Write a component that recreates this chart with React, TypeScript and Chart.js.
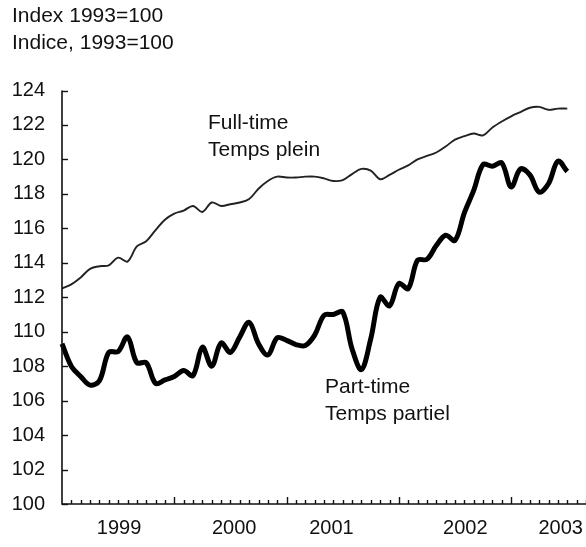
import { useEffect, useRef } from "react";
import { Chart, registerables } from "chart.js";
Chart.register(...registerables);

// Monthly index values, Jan 1999 .. Jul 2003 (month 0 = Jan 1999)
const fullTime = [
  112.5, 112.75, 113.15, 113.65, 113.8, 113.85, 114.3, 114.07, 114.95, 115.25, 115.9, 116.5,
  116.85, 117.03, 117.3, 116.95, 117.5, 117.3, 117.4, 117.5, 117.7, 118.3, 118.75, 119.0,
  118.95, 118.95, 119.0, 119.0, 118.9, 118.75, 118.8, 119.15, 119.45, 119.35, 118.85, 119.1,
  119.4, 119.65, 120.0, 120.2, 120.4, 120.75, 121.15, 121.35, 121.5, 121.4, 121.85, 122.2,
  122.5, 122.75, 123.0, 123.05, 122.88, 122.95, 122.95,
];
const partTime = [
  109.3, 108.0, 107.4, 106.9, 107.15, 108.8, 108.85, 109.7, 108.2, 108.2, 107.0, 107.2,
  107.4, 107.75, 107.45, 109.1, 108.0, 109.35, 108.8, 109.7, 110.55, 109.3, 108.65, 109.65,
  109.5, 109.25, 109.2, 109.8, 110.95, 111.0, 111.15, 109.0, 107.8, 109.6, 112.0, 111.5,
  112.8, 112.5, 114.15, 114.2, 115.0, 115.6, 115.3, 116.9, 118.2, 119.7, 119.6, 119.8,
  118.4, 119.45, 119.1, 118.1, 118.6, 119.9, 119.3,
];
const yearLabels = ["1999", "2000", "2001", "2002", "2003"];
const yearLabelMonths = [6.1, 18.4, 28.8, 43.1, 53.3];
const yTickValues = [100, 102, 104, 106, 108, 110, 112, 114, 116, 118, 120, 122, 124];
const titleLines = ["Index 1993=100", "Indice, 1993=100"];
const fullTimeLabel = ["Full-time", "Temps plein"];
const partTimeLabel = ["Part-time", "Temps partiel"];

const X_MIN = 0;
const X_MAX = 56;
const FONT = "'Liberation Sans', Arial, Helvetica, sans-serif";
const INK = "#111";

const decorPlugin = {
  id: "decor",
  afterDraw(chart: any) {
    const { ctx, chartArea, scales } = chart;
    const xs = scales.x;
    const ys = scales.y;
    ctx.save();
    ctx.strokeStyle = INK;
    ctx.lineWidth = 1.6;
    ctx.beginPath();
    ctx.moveTo(chartArea.left, ys.getPixelForValue(124));
    ctx.lineTo(chartArea.left, ys.getPixelForValue(100));
    ctx.lineTo(xs.getPixelForValue(X_MAX), ys.getPixelForValue(100));
    ctx.stroke();
    ctx.lineWidth = 1.4;
    for (const v of yTickValues) {
      const py = Math.round(ys.getPixelForValue(v)) + 0.5;
      ctx.beginPath();
      ctx.moveTo(chartArea.left, py);
      ctx.lineTo(chartArea.left + 6, py);
      ctx.stroke();
    }
    const base = ys.getPixelForValue(100);
    for (let m = X_MIN + 1; m <= X_MAX; m++) {
      const px = Math.round(xs.getPixelForValue(m)) + 0.5;
      const len = m % 12 === 0 ? 7 : 4;
      ctx.beginPath();
      ctx.moveTo(px, base);
      ctx.lineTo(px, base - len);
      ctx.stroke();
    }
    ctx.fillStyle = INK;
    ctx.font = `21px ${FONT}`;
    ctx.textAlign = "left";
    ctx.textBaseline = "alphabetic";
    ctx.fillText(titleLines[0], 12, 22);
    ctx.fillText(titleLines[1], 12, 49);
    ctx.fillText(fullTimeLabel[0], 208, 129);
    ctx.fillText(fullTimeLabel[1], 208, 156);
    ctx.fillText(partTimeLabel[0], 325, 393);
    ctx.fillText(partTimeLabel[1], 325, 420);
    ctx.restore();
  },
};

export default function App() {
  const ref = useRef<HTMLCanvasElement | null>(null);
  useEffect(() => {
    if (!ref.current) return;
    const chart = new Chart(ref.current, {
      type: "line",
      data: {
        datasets: [
          {
            label: "Full-time",
            data: fullTime.map((v, i) => ({ x: i, y: v })),
            borderColor: "#222",
            borderWidth: 1.9,
            pointRadius: 0,
            tension: 0.35,
            clip: false as any,
          },
          {
            label: "Part-time",
            data: partTime.map((v, i) => ({ x: i, y: v })),
            borderColor: "#000",
            borderWidth: 5,
            pointRadius: 0,
            tension: 0.35,
            clip: false as any,
            borderCapStyle: "butt",
            borderJoinStyle: "round",
          },
        ],
      },
      options: {
        animation: false,
        responsive: false,
        maintainAspectRatio: false,
        layout: { padding: { left: 0, right: 0, top: 90.5, bottom: 0 } },
        plugins: { legend: { display: false }, tooltip: { enabled: false }, title: { display: false } },
        scales: {
          x: {
            type: "linear",
            min: X_MIN,
            max: X_MAX,
            grid: { display: false, drawTicks: false },
            border: { display: false },
            afterBuildTicks: (scale: any) => {
              scale.ticks = yearLabelMonths.map((v) => ({ value: v }));
            },
            afterFit: (scale: any) => {
              scale.height = 43;
              scale.paddingLeft = 0;
              scale.paddingRight = 0;
            },
            ticks: {
              autoSkip: false,
              maxRotation: 0,
              padding: 12,
              color: INK,
              font: { family: FONT, size: 20 },
              callback: (v: any) => {
                const i = yearLabelMonths.indexOf(Number(v));
                return i >= 0 ? yearLabels[i] : "";
              },
            },
          },
          y: {
            min: 100,
            max: 124,
            grid: { display: false, drawTicks: false },
            border: { display: false },
            afterBuildTicks: (scale: any) => {
              scale.ticks = yTickValues.map((v) => ({ value: v }));
            },
            afterFit: (scale: any) => {
              scale.width = 62;
              scale.paddingTop = 0;
              scale.paddingBottom = 0;
            },
            ticks: {
              padding: 17,
              color: INK,
              font: { family: FONT, size: 20 },
              callback: (v: any) => String(v),
            },
          },
        },
      },
      plugins: [decorPlugin],
    });
    return () => chart.destroy();
  }, []);
  return (
    <div style={{ position: "fixed", left: 0, top: 0, width: 586, height: 547, background: "#fff" }}>
      <canvas ref={ref} width={586} height={547} style={{ display: "block" }} />
    </div>
  );
}
